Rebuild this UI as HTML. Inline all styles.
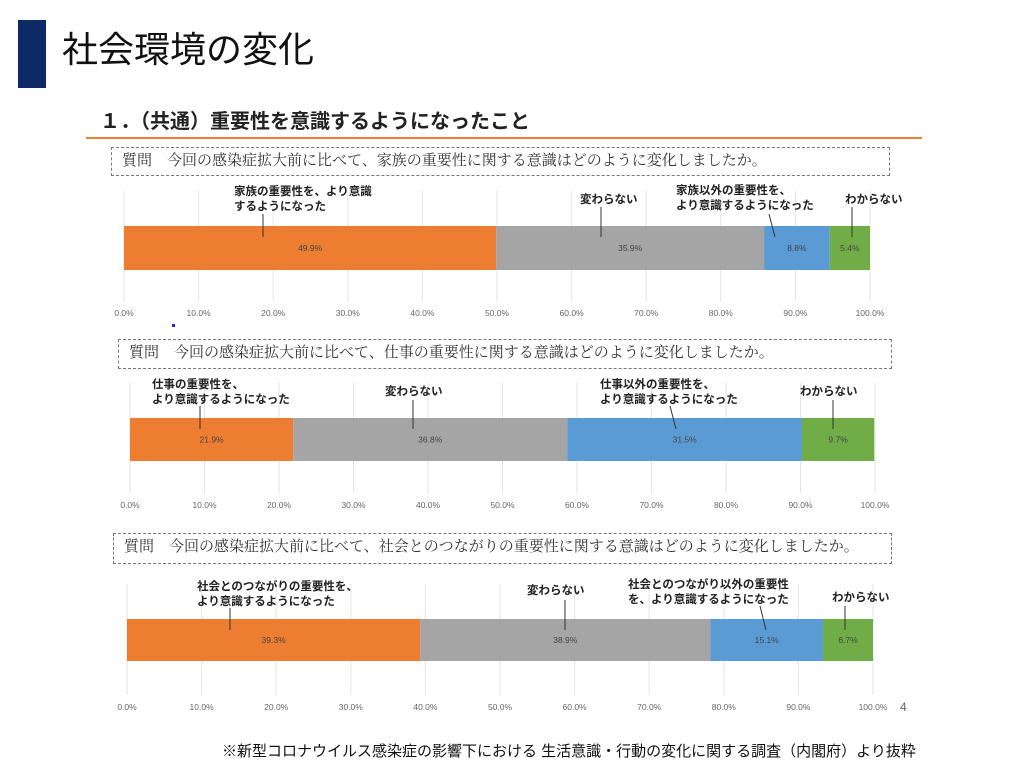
<!DOCTYPE html>
<html><head><meta charset="utf-8">
<style>
body{margin:0;width:1024px;height:766px;background:#fff;position:relative;overflow:hidden;font-family:"Liberation Sans","Noto Sans CJK JP",sans-serif;}
.abs{position:absolute;}
.qbox{position:absolute;border:1.5px dashed #777;font-family:"Liberation Serif","Noto Serif CJK SC",serif;font-size:15px;color:#333;line-height:26px;padding-left:10px;box-sizing:border-box;white-space:nowrap;}
.lab{position:absolute;font-size:11.5px;font-weight:bold;color:#222;line-height:15px;white-space:nowrap;}
</style></head><body>
<div class="abs" style="left:18px;top:20px;width:28px;height:68px;background:#0d2a66"></div>
<div class="abs" style="left:62px;top:28px;font-size:36px;line-height:44px;color:#111">社会環境の変化</div>
<div class="abs" style="left:100px;top:108px;font-size:20px;font-weight:bold;line-height:28px;color:#222">１．（共通）重要性を意識するようになったこと</div>
<div class="abs" style="left:86px;top:137px;width:836px;height:2px;background:#ed7d31"></div>
<div class="abs" style="left:900px;top:700px;font-size:12px;color:#666">4</div>
<div class="abs" style="left:222px;top:740px;font-size:15px;color:#111;white-space:nowrap">※新型コロナウイルス感染症の影響下における 生活意識・行動の変化に関する調査（内閣府）より抜粋</div>
<div class="abs" style="left:172px;top:324px;width:3px;height:3px;background:#22f"></div>
<svg id="svg" class="abs" style="left:0;top:0" width="1024" height="766"></svg>
<script>
const categories=["より意識するようになった","変わらない","以外をより意識","わからない"];
const familyValues=[49.9,35.9,8.8,5.4];
const workValues=[21.9,36.8,31.5,9.7];
const socialValues=[39.3,38.9,15.1,6.7];
const tickLabels=["0.0%","10.0%","20.0%","30.0%","40.0%","50.0%","60.0%","70.0%","80.0%","90.0%","100.0%"];
const tickValues=[0,10,20,30,40,50,60,70,80,90,100];
const colors=["#ed7d31","#a5a5a5","#5b9bd5","#70ad47"];
const charts=[
 {name:"family",vals:familyValues,q:"質問　今回の感染症拡大前に比べて、家族の重要性に関する意識はどのように変化しましたか。",box:[111,147,779,29],x0:124,x1:870,by:226,bh:44,ty:313,
  labels:[["家族の重要性を、より意識<br>するようになった",234,185,263,214],["変わらない",580,193,601,207],["家族以外の重要性を、<br>より意識するようになった",676,184,769,214],["わからない",845,193,852,207]]},
 {name:"work",vals:workValues,q:"質問　今回の感染症拡大前に比べて、仕事の重要性に関する意識はどのように変化しましたか。",box:[118,339,774,30],x0:130,x1:875,by:418,bh:43,ty:505,
  labels:[["仕事の重要性を、<br>より意識するようになった",152,378,200,406],["変わらない",385,385,413,400],["仕事以外の重要性を、<br>より意識するようになった",600,378,670,406],["わからない",800,385,833,400]]},
 {name:"social",vals:socialValues,q:"質問　今回の感染症拡大前に比べて、社会とのつながりの重要性に関する意識はどのように変化しましたか。",box:[113,533,779,31],x0:127,x1:873,by:619,bh:42,ty:707,
  labels:[["社会とのつながりの重要性を、<br>より意識するようになった",197,580,230,608],["変わらない",527,584,565,600],["社会とのつながり以外の重要性<br>を、より意識するようになった",628,578,760,606],["わからない",832,591,845,606]]}
];
const svg=document.getElementById('svg');
const NS="http://www.w3.org/2000/svg";
function mk(t,a){const e=document.createElementNS(NS,t);for(const k in a)e.setAttribute(k,a[k]);svg.appendChild(e);return e;}
charts.forEach(c=>{
 const xs=v=>c.x0+(c.x1-c.x0)*v/100;
 const q=document.createElement('div');q.className='qbox';
 
 
 q.style.left=c.box[0]+'px';q.style.top=c.box[1]+'px';q.style.width=c.box[2]+'px';q.style.height=c.box[3]+'px';
 q.textContent=c.q;document.body.appendChild(q);
 tickValues.forEach((t,i)=>{
  const g=mk('line',{x1:xs(t),x2:xs(t),y1:c.by-35,y2:c.ty-12,stroke:'#e3e3e3','stroke-width':1});
  
  
  const tx=mk('text',{x:xs(t),y:c.ty+3,'text-anchor':'middle','font-size':8.5,fill:'#666','font-family':'Liberation Sans, sans-serif'});
  tx.textContent=tickLabels[i];
  
  
 });
 let acc=0;
 c.vals.forEach((v,i)=>{
  const r=mk('rect',{x:xs(acc),y:c.by,width:xs(acc+v)-xs(acc),height:c.bh,fill:colors[i]});
  
  
  const t=mk('text',{x:(xs(acc)+xs(acc+v))/2,y:c.by+c.bh/2+3,'text-anchor':'middle','font-size':8.5,fill:'#444','font-family':'Liberation Sans, sans-serif'});
  t.textContent=v.toFixed(1)+'%';
  
  
  acc+=v;
 });
 c.labels.forEach((l,i)=>{
  const d=document.createElement('div');d.className='lab';
  
  
  d.style.left=l[1]+'px';d.style.top=l[2]+'px';d.innerHTML=l[0];document.body.appendChild(d);
  const ln=mk('line',{x1:l[3],y1:l[4],x2:l[3]+(i==2?6:0),y2:c.by+11,stroke:'#333','stroke-width':1});
  
  
 });
});
</script>
</body></html>
